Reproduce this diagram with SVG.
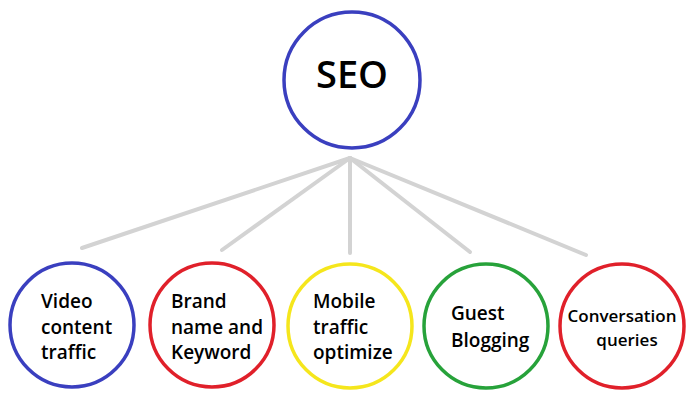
<svg xmlns="http://www.w3.org/2000/svg" width="700" height="400" viewBox="0 0 700 400">
<style>
.n{fill:#fff;stroke-width:3.5}
.t{font-family:"Open Sans","DejaVu Sans",sans-serif;font-weight:600;fill:#000;font-size:19px}
.c{stroke:#d3d3d3;stroke-width:4;stroke-linecap:round;fill:none}
</style>
<rect width="700" height="400" fill="#fff"/>
<g id="connectors">
<line class="c" x1="350" y1="158" x2="82" y2="248"/>
<line class="c" x1="350" y1="158" x2="222" y2="250"/>
<line class="c" x1="350" y1="158" x2="350" y2="253"/>
<line class="c" x1="350" y1="158" x2="470" y2="252"/>
<line class="c" x1="350" y1="158" x2="586" y2="255"/>
</g>
<g id="seo">
<circle class="n" cx="352" cy="80" r="68" stroke="#3a3fbf"/>
<text x="352" y="88" text-anchor="middle" class="t" style="font-size:38px">SEO</text>
</g>
<g id="video">
<circle class="n" cx="72" cy="325" r="62" stroke="#3a3fbf"/>
<text class="t" x="41" y="308">Video</text>
<text class="t" x="41" y="334">content</text>
<text class="t" x="41" y="359">traffic</text>
</g>
<g id="brand">
<circle class="n" cx="212" cy="325" r="62" stroke="#e0202a"/>
<text class="t" x="171" y="308">Brand</text>
<text class="t" x="171" y="334">name and</text>
<text class="t" x="171" y="359">Keyword</text>
</g>
<g id="mobile">
<circle class="n" cx="350" cy="326" r="62" stroke="#f5e61c"/>
<text class="t" x="313" y="308">Mobile</text>
<text class="t" x="313" y="334">traffic</text>
<text class="t" x="313" y="359">optimize</text>
</g>
<g id="guest">
<circle class="n" cx="486" cy="326" r="62" stroke="#27a23a"/>
<text class="t" x="451" y="320">Guest</text>
<text class="t" x="451" y="347">Blogging</text>
</g>
<g id="conversation">
<circle class="n" cx="622" cy="326" r="62" stroke="#e0202a"/>
<text class="t" x="622" y="322" text-anchor="middle" style="font-size:17px">Conversation</text>
<text class="t" x="627" y="346" text-anchor="middle" style="font-size:17px">queries</text>
</g>
</svg>
